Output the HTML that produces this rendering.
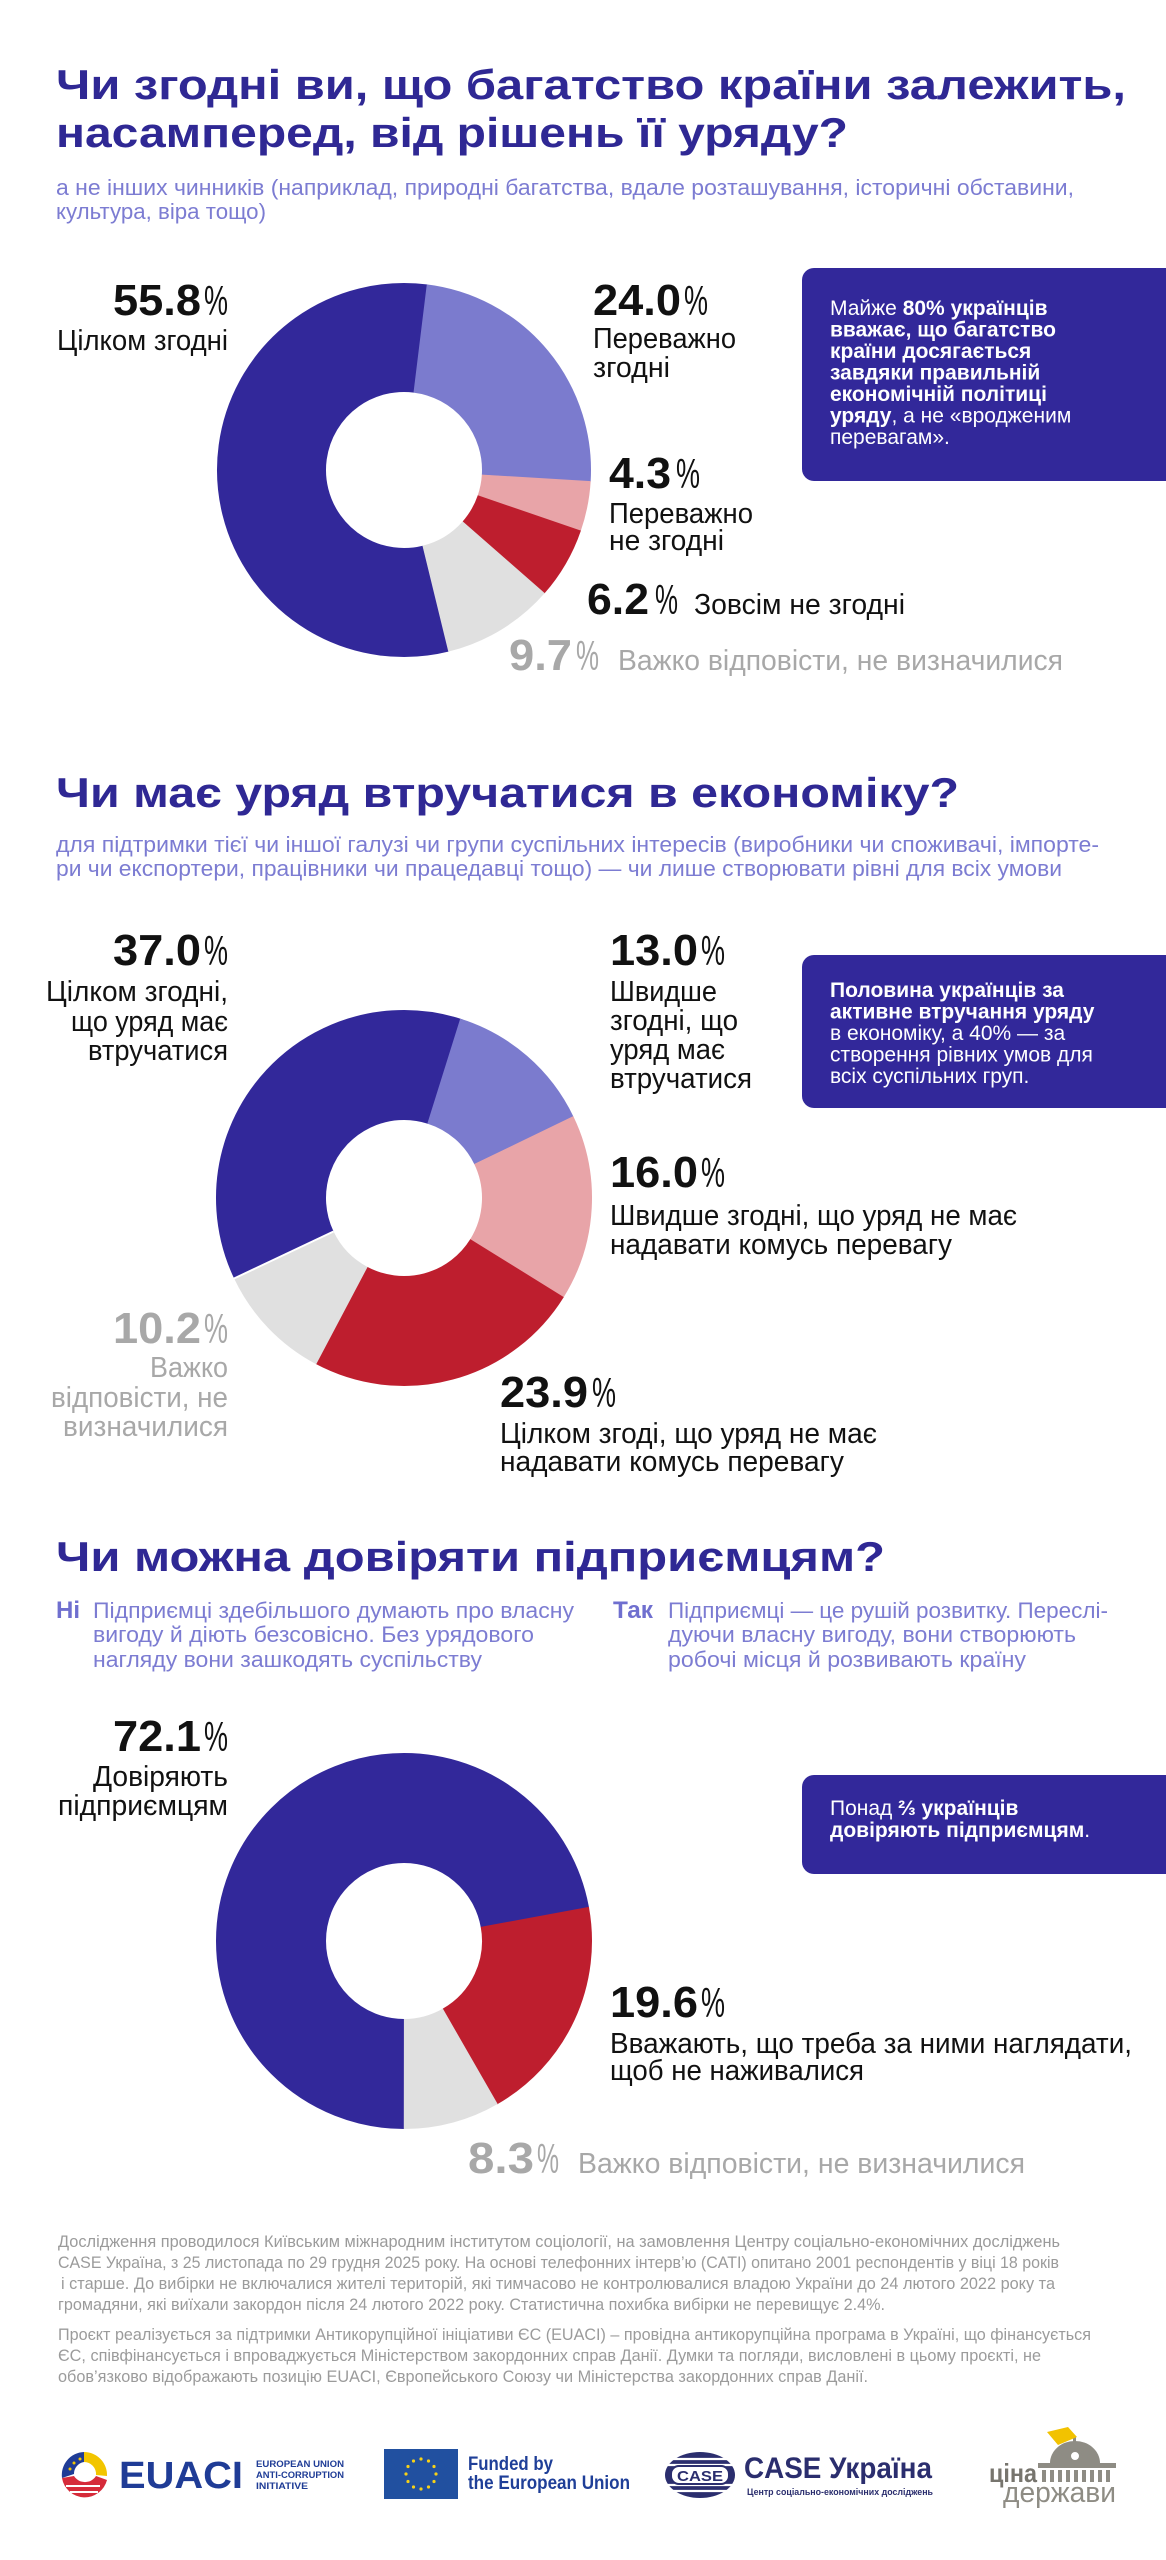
<!DOCTYPE html>
<html><head><meta charset="utf-8"><style>
html,body{margin:0;padding:0;background:#fff;}
svg{display:block;}
.t{font-family:"Liberation Sans","Noto Sans CJK SC",sans-serif;font-weight:700;font-size:42px;fill:#2f2894;}
.s{font-family:"Liberation Sans","Noto Sans CJK SC",sans-serif;font-size:22px;fill:#7c7cd2;}
.n{font-family:"Liberation Sans Narrow","Liberation Sans",sans-serif;font-weight:700;font-size:44px;fill:#111;}
.p{font-family:"Liberation Sans Narrow","Liberation Sans",sans-serif;font-weight:400;font-size:42px;fill:#111;}
.l{font-family:"Liberation Sans Narrow","Liberation Sans",sans-serif;font-size:29px;fill:#111;}
.g{fill:#a8a8a8;}
.b{font-family:"Liberation Sans","Noto Sans CJK SC",sans-serif;font-size:21px;fill:#fff;}
.bb{font-weight:700;}
.f{font-family:"Liberation Sans Narrow","Liberation Sans",sans-serif;font-size:17px;fill:#9b9b9b;}
</style></head><body>
<svg width="1166" height="2560" viewBox="0 0 1166 2560" xmlns="http://www.w3.org/2000/svg">
<rect width="1166" height="2560" fill="#fff"/>

<!-- ===== Section 1 ===== -->
<text class="t" x="56" y="99" textLength="1070" lengthAdjust="spacingAndGlyphs">Чи згодні ви, що багатство країни залежить,</text>
<text class="t" x="56" y="147" textLength="792" lengthAdjust="spacingAndGlyphs">насамперед, від рішень її уряду?</text>
<text class="s" x="56" y="195" textLength="1018" lengthAdjust="spacingAndGlyphs">а не інших чинників (наприклад, природні багатства, вдале розташування, історичні обставини,</text>
<text class="s" x="56" y="219" textLength="210" lengthAdjust="spacingAndGlyphs">культура, віра тощо)</text>

<g fill="none" stroke-width="109">
<circle cx="404" cy="470" r="132.5" pathLength="100" stroke="#32289a" stroke-dasharray="55.9 100" transform="rotate(76.1 404 470)"/>
<circle cx="404" cy="470" r="132.5" pathLength="100" stroke="#7b7bce" stroke-dasharray="24.05 100" transform="rotate(-83 404 470)"/>
<circle cx="404" cy="470" r="132.5" pathLength="100" stroke="#e8a4a8" stroke-dasharray="4.35 100" transform="rotate(3.4 404 470)"/>
<circle cx="404" cy="470" r="132.5" pathLength="100" stroke="#be1e2e" stroke-dasharray="6.25 100" transform="rotate(18.9 404 470)"/>
<circle cx="404" cy="470" r="132.5" pathLength="100" stroke="#e0e0e0" stroke-dasharray="9.75 100" transform="rotate(41.2 404 470)"/>
</g>

<rect x="802" y="268" width="400" height="213" rx="12" fill="#32289a"/>
<text class="b" x="830" y="315">Майже <tspan class="bb">80% українців</tspan></text>
<text class="b bb" x="830" y="336.5">вважає, що багатство</text>
<text class="b bb" x="830" y="358">країни досягається</text>
<text class="b bb" x="830" y="379.5">завдяки правильній</text>
<text class="b bb" x="830" y="401">економічній політиці</text>
<text class="b" x="830" y="422.5"><tspan class="bb">уряду</tspan>, а не «вродженим</text>
<text class="b" x="830" y="444">перевагам».</text>

<text class="n" x="113" y="315" textLength="88" lengthAdjust="spacingAndGlyphs">55.8</text>
<text class="p" x="204" y="315" textLength="24" lengthAdjust="spacingAndGlyphs">%</text>
<text class="l" x="57" y="350" textLength="171" lengthAdjust="spacingAndGlyphs">Цілком згодні</text>

<text class="n" x="593" y="315" textLength="88" lengthAdjust="spacingAndGlyphs">24.0</text>
<text class="p" x="684" y="315" textLength="24" lengthAdjust="spacingAndGlyphs">%</text>
<text class="l" x="593" y="348" textLength="143" lengthAdjust="spacingAndGlyphs">Переважно</text>
<text class="l" x="593" y="377" textLength="77" lengthAdjust="spacingAndGlyphs">згодні</text>

<text class="n" x="609" y="488" textLength="62" lengthAdjust="spacingAndGlyphs">4.3</text>
<text class="p" x="676" y="488" textLength="24" lengthAdjust="spacingAndGlyphs">%</text>
<text class="l" x="609" y="523" textLength="144" lengthAdjust="spacingAndGlyphs">Переважно</text>
<text class="l" x="609" y="550" textLength="115" lengthAdjust="spacingAndGlyphs">не згодні</text>

<text class="n" x="587" y="614" textLength="62" lengthAdjust="spacingAndGlyphs">6.2</text>
<text class="p" x="655" y="614" textLength="23" lengthAdjust="spacingAndGlyphs">%</text>
<text class="l" x="694" y="614" textLength="211" lengthAdjust="spacingAndGlyphs">Зовсім не згодні</text>

<text class="n g" x="509" y="670" textLength="63" lengthAdjust="spacingAndGlyphs">9.7</text>
<text class="p g" x="576" y="670" textLength="23" lengthAdjust="spacingAndGlyphs">%</text>
<text class="l g" x="618" y="670" textLength="445" lengthAdjust="spacingAndGlyphs">Важко відповісти, не визначилися</text>

<!-- ===== Section 2 ===== -->
<text class="t" x="56" y="807" textLength="903" lengthAdjust="spacingAndGlyphs">Чи має уряд втручатися в економіку?</text>
<text class="s" x="56" y="852" textLength="1043" lengthAdjust="spacingAndGlyphs">для підтримки тієї чи іншої галузі чи групи суспільних інтересів (виробники чи споживачі, імпорте-</text>
<text class="s" x="56" y="876" textLength="1006" lengthAdjust="spacingAndGlyphs">ри чи експортери, працівники чи працедавці тощо) — чи лише створювати рівні для всіх умови</text>

<g fill="none" stroke-width="110">
<circle cx="404" cy="1198" r="133" pathLength="100" stroke="#32289a" stroke-dasharray="37.1 100" transform="rotate(154.56 404 1198)"/>
<circle cx="404" cy="1198" r="133" pathLength="100" stroke="#7b7bce" stroke-dasharray="13.05 100" transform="rotate(-72.6 404 1198)"/>
<circle cx="404" cy="1198" r="133" pathLength="100" stroke="#e8a4a8" stroke-dasharray="16.05 100" transform="rotate(-25.8 404 1198)"/>
<circle cx="404" cy="1198" r="133" pathLength="100" stroke="#be1e2e" stroke-dasharray="23.95 100" transform="rotate(31.8 404 1198)"/>
<circle cx="404" cy="1198" r="133" pathLength="100" stroke="#e0e0e0" stroke-dasharray="10.2 100" transform="rotate(117.84 404 1198)"/>
</g>
<line x1="333.5" y1="1231.5" x2="233" y2="1279" stroke="#fff" stroke-width="2"/>

<rect x="802" y="955" width="400" height="153" rx="12" fill="#32289a"/>
<text class="b bb" x="830" y="997">Половина українців за</text>
<text class="b bb" x="830" y="1018.5">активне втручання уряду</text>
<text class="b" x="830" y="1040">в економіку, а 40% — за</text>
<text class="b" x="830" y="1061.5">створення рівних умов для</text>
<text class="b" x="830" y="1083">всіх суспільних груп.</text>

<text class="n" x="113" y="965" textLength="88" lengthAdjust="spacingAndGlyphs">37.0</text>
<text class="p" x="204" y="965" textLength="24" lengthAdjust="spacingAndGlyphs">%</text>
<text class="l" x="46" y="1001" textLength="182" lengthAdjust="spacingAndGlyphs">Цілком згодні,</text>
<text class="l" x="71" y="1031" textLength="157" lengthAdjust="spacingAndGlyphs">що уряд має</text>
<text class="l" x="88" y="1060" textLength="140" lengthAdjust="spacingAndGlyphs">втручатися</text>

<text class="n" x="610" y="965" textLength="88" lengthAdjust="spacingAndGlyphs">13.0</text>
<text class="p" x="701" y="965" textLength="24" lengthAdjust="spacingAndGlyphs">%</text>
<text class="l" x="610" y="1001" textLength="107" lengthAdjust="spacingAndGlyphs">Швидше</text>
<text class="l" x="610" y="1030" textLength="128" lengthAdjust="spacingAndGlyphs">згодні, що</text>
<text class="l" x="610" y="1059" textLength="115" lengthAdjust="spacingAndGlyphs">уряд має</text>
<text class="l" x="610" y="1088" textLength="142" lengthAdjust="spacingAndGlyphs">втручатися</text>

<text class="n" x="610" y="1187" textLength="88" lengthAdjust="spacingAndGlyphs">16.0</text>
<text class="p" x="701" y="1187" textLength="24" lengthAdjust="spacingAndGlyphs">%</text>
<text class="l" x="610" y="1225" textLength="407" lengthAdjust="spacingAndGlyphs">Швидше згодні, що уряд не має</text>
<text class="l" x="610" y="1254" textLength="342" lengthAdjust="spacingAndGlyphs">надавати комусь перевагу</text>

<text class="n g" x="113" y="1343" textLength="88" lengthAdjust="spacingAndGlyphs">10.2</text>
<text class="p g" x="204" y="1343" textLength="24" lengthAdjust="spacingAndGlyphs">%</text>
<text class="l g" x="150" y="1377" textLength="78" lengthAdjust="spacingAndGlyphs">Важко</text>
<text class="l g" x="51" y="1407" textLength="177" lengthAdjust="spacingAndGlyphs">відповісти, не</text>
<text class="l g" x="63" y="1436" textLength="165" lengthAdjust="spacingAndGlyphs">визначилися</text>

<text class="n" x="500" y="1407" textLength="88" lengthAdjust="spacingAndGlyphs">23.9</text>
<text class="p" x="592" y="1407" textLength="24" lengthAdjust="spacingAndGlyphs">%</text>
<text class="l" x="500" y="1443" textLength="377" lengthAdjust="spacingAndGlyphs">Цілком згоді, що уряд не має</text>
<text class="l" x="500" y="1471" textLength="344" lengthAdjust="spacingAndGlyphs">надавати комусь перевагу</text>

<!-- ===== Section 3 ===== -->
<text class="t" x="56" y="1571" textLength="829" lengthAdjust="spacingAndGlyphs">Чи можна довіряти підприємцям?</text>
<text class="s" x="56" y="1618" style="font-weight:700;font-size:24px;fill:#6f6fcf" textLength="24" lengthAdjust="spacingAndGlyphs">Ні</text>
<text class="s" x="93" y="1618" textLength="481" lengthAdjust="spacingAndGlyphs">Підприємці здебільшого думають про власну</text>
<text class="s" x="93" y="1642" textLength="441" lengthAdjust="spacingAndGlyphs">вигоду й діють безсовісно. Без урядового</text>
<text class="s" x="93" y="1667" textLength="389" lengthAdjust="spacingAndGlyphs">нагляду вони зашкодять суспільству</text>
<text class="s" x="613" y="1618" style="font-weight:700;font-size:24px;fill:#6f6fcf" textLength="40" lengthAdjust="spacingAndGlyphs">Так</text>
<text class="s" x="668" y="1618" textLength="440" lengthAdjust="spacingAndGlyphs">Підприємці — це рушій розвитку. Переслі-</text>
<text class="s" x="668" y="1642" textLength="408" lengthAdjust="spacingAndGlyphs">дуючи власну вигоду, вони створюють</text>
<text class="s" x="668" y="1667" textLength="358" lengthAdjust="spacingAndGlyphs">робочі місця й розвивають країну</text>

<g fill="none" stroke-width="110">
<circle cx="404" cy="1941" r="133" pathLength="100" stroke="#32289a" stroke-dasharray="72.2 100" transform="rotate(90 404 1941)"/>
<circle cx="404" cy="1941" r="133" pathLength="100" stroke="#be1e2e" stroke-dasharray="19.65 100" transform="rotate(-10.44 404 1941)"/>
<circle cx="404" cy="1941" r="133" pathLength="100" stroke="#e0e0e0" stroke-dasharray="8.32 100" transform="rotate(60.12 404 1941)"/>
</g>

<rect x="802" y="1775" width="400" height="99" rx="12" fill="#32289a"/>
<text class="b" x="830" y="1815">Понад <tspan class="bb">⅔ українців</tspan></text>
<text class="b" x="830" y="1837"><tspan class="bb">довіряють підприємцям</tspan>.</text>

<text class="n" x="113" y="1751" textLength="88" lengthAdjust="spacingAndGlyphs">72.1</text>
<text class="p" x="204" y="1751" textLength="24" lengthAdjust="spacingAndGlyphs">%</text>
<text class="l" x="93" y="1786" textLength="135" lengthAdjust="spacingAndGlyphs">Довіряють</text>
<text class="l" x="58" y="1815" textLength="170" lengthAdjust="spacingAndGlyphs">підприємцям</text>

<text class="n" x="610" y="2017" textLength="88" lengthAdjust="spacingAndGlyphs">19.6</text>
<text class="p" x="701" y="2017" textLength="24" lengthAdjust="spacingAndGlyphs">%</text>
<text class="l" x="610" y="2053" textLength="522" lengthAdjust="spacingAndGlyphs">Вважають, що треба за ними наглядати,</text>
<text class="l" x="610" y="2080" textLength="254" lengthAdjust="spacingAndGlyphs">щоб не наживалися</text>

<text class="n g" x="468" y="2173" textLength="66" lengthAdjust="spacingAndGlyphs">8.3</text>
<text class="p g" x="537" y="2173" textLength="22" lengthAdjust="spacingAndGlyphs">%</text>
<text class="l g" x="578" y="2173" textLength="447" lengthAdjust="spacingAndGlyphs">Важко відповісти, не визначилися</text>

<!-- ===== Footer ===== -->
<text class="f" x="58" y="2247" textLength="1002" lengthAdjust="spacingAndGlyphs">Дослідження проводилося Київським міжнародним інститутом соціології, на замовлення Центру соціально-економічних досліджень</text>
<text class="f" x="58" y="2268" textLength="1001" lengthAdjust="spacingAndGlyphs">CASE Україна, з 25 листопада по 29 грудня 2025 року. На основі телефонних інтерв’ю (CATI) опитано 2001 респондентів у віці 18 років</text>
<text class="f" x="61" y="2289" textLength="994" lengthAdjust="spacingAndGlyphs">і старше. До вибірки не включалися жителі територій, які тимчасово не контролювалися владою України до 24 лютого 2022 року та</text>
<text class="f" x="58" y="2310" textLength="827" lengthAdjust="spacingAndGlyphs">громадяни, які виїхали закордон після 24 лютого 2022 року. Статистична похибка вибірки не перевищує 2.4%.</text>
<text class="f" x="58" y="2340" textLength="1033" lengthAdjust="spacingAndGlyphs">Проєкт реалізується за підтримки Антикорупційної ініціативи ЄС (EUACI) – провідна антикорупційна програма в Україні, що фінансується</text>
<text class="f" x="58" y="2361" textLength="983" lengthAdjust="spacingAndGlyphs">ЄС, співфінансується і впроваджується Міністерством закордонних справ Данії. Думки та погляди, висловлені в цьому проєкті, не</text>
<text class="f" x="58" y="2382" textLength="810" lengthAdjust="spacingAndGlyphs">обов’язково відображають позицію EUACI, Європейського Союзу чи Міністерства закордонних справ Данії.</text>

<!-- EUACI logo -->
<g>
<path d="M84 2452 A23 23 0 0 0 62 2478 L74 2474 A12 12 0 0 1 84 2462 Z" fill="#1f3c96"/>
<path d="M84 2452 A23 23 0 0 1 107 2476 L96 2475 A12 12 0 0 0 84 2462 Z" fill="#f2c500"/>
<path d="M62 2478 A23 23 0 0 0 107 2480 L96 2476 A13 13 0 0 1 74 2476 Z" fill="#d62b3a"/>
<path d="M66 2486 L100 2486 M70 2492 L98 2492" stroke="#fff" stroke-width="2"/>
<circle cx="74" cy="2463" r="1.5" fill="#f2c500"/><circle cx="80" cy="2459" r="1.5" fill="#f2c500"/><circle cx="70" cy="2469" r="1.5" fill="#f2c500"/>
</g>
<text x="119" y="2488" textLength="124" lengthAdjust="spacingAndGlyphs" style="font-family:'Liberation Sans',sans-serif;font-weight:700;font-size:38px;fill:#1f3c96">EUACI</text>
<g style="font-family:'Liberation Sans',sans-serif;font-weight:700;font-size:9.5px;fill:#1f3c96">
<text x="256" y="2467" textLength="88" lengthAdjust="spacingAndGlyphs">EUROPEAN UNION</text>
<text x="256" y="2478" textLength="88" lengthAdjust="spacingAndGlyphs">ANTI-CORRUPTION</text>
<text x="256" y="2489" textLength="52" lengthAdjust="spacingAndGlyphs">INITIATIVE</text>
</g>

<!-- EU flag -->
<rect x="384" y="2449" width="74" height="50" fill="#2150a0"/>
<g fill="#f7d117">
<circle cx="421" cy="2459" r="1.6"/><circle cx="428.5" cy="2461" r="1.6"/><circle cx="434" cy="2466.5" r="1.6"/><circle cx="436" cy="2474" r="1.6"/><circle cx="434" cy="2481.5" r="1.6"/><circle cx="428.5" cy="2487" r="1.6"/><circle cx="421" cy="2489" r="1.6"/><circle cx="413.5" cy="2487" r="1.6"/><circle cx="408" cy="2481.5" r="1.6"/><circle cx="406" cy="2474" r="1.6"/><circle cx="408" cy="2466.5" r="1.6"/><circle cx="413.5" cy="2461" r="1.6"/>
</g>
<g style="font-family:'Liberation Sans',sans-serif;font-weight:700;font-size:19px;fill:#1f3f98">
<text x="468" y="2470" textLength="85" lengthAdjust="spacingAndGlyphs">Funded by</text>
<text x="468" y="2489" textLength="162" lengthAdjust="spacingAndGlyphs">the European Union</text>
</g>

<!-- CASE logo -->
<g>
<ellipse cx="700" cy="2475" rx="35" ry="23" fill="#2b2e6e"/>
<g stroke="#fff" stroke-width="2.2">
<line x1="664" y1="2459" x2="736" y2="2459"/><line x1="664" y1="2465" x2="736" y2="2465"/><line x1="664" y1="2485" x2="736" y2="2485"/><line x1="664" y1="2491" x2="736" y2="2491"/>
</g>
<rect x="671" y="2466" width="58" height="18" rx="8" fill="#fff" stroke="#2b2e6e" stroke-width="2"/>
<text x="677" y="2481" textLength="46" lengthAdjust="spacingAndGlyphs" style="font-family:'Liberation Sans',sans-serif;font-weight:700;font-size:15px;fill:#2b2e6e">CASE</text>
</g>
<text x="744" y="2478" textLength="188" lengthAdjust="spacingAndGlyphs" style="font-family:'Liberation Sans Narrow','Liberation Sans',sans-serif;font-weight:700;font-size:30px;fill:#2b2e6e">CASE Україна</text>
<text x="747" y="2495" textLength="186" lengthAdjust="spacingAndGlyphs" style="font-family:'Liberation Sans Narrow','Liberation Sans',sans-serif;font-weight:700;font-size:9px;fill:#2b2e6e">Центр соціально-економічних досліджень</text>

<!-- Ціна держави logo -->
<g>
<path d="M1050 2463 A25 22 0 0 1 1100 2463 Z" fill="#8e8c84"/>
<rect x="1073" y="2436" width="3" height="8" fill="#8e8c84"/>
<path d="M1047 2432 L1068 2427 L1077 2437 L1058 2445 Z" fill="#f2c200"/>
<circle cx="1075" cy="2456" r="5" fill="#fff" stroke="#8e8c84" stroke-width="2"/>
<rect x="1038" y="2463" width="78" height="5" fill="#8e8c84"/>
<g fill="#8e8c84">
<rect x="1042" y="2470" width="4" height="12"/><rect x="1050" y="2470" width="4" height="12"/><rect x="1058" y="2470" width="4" height="12"/><rect x="1066" y="2470" width="4" height="12"/><rect x="1074" y="2470" width="4" height="12"/><rect x="1082" y="2470" width="4" height="12"/><rect x="1090" y="2470" width="4" height="12"/><rect x="1098" y="2470" width="4" height="12"/><rect x="1106" y="2470" width="4" height="12"/>
</g>
<text x="989" y="2482" textLength="48" lengthAdjust="spacingAndGlyphs" style="font-family:'Liberation Sans Narrow','Liberation Sans',sans-serif;font-weight:700;font-size:26px;fill:#77756e">ціна</text>
<text x="1003" y="2502" textLength="113" lengthAdjust="spacingAndGlyphs" style="font-family:'Liberation Sans Narrow','Liberation Sans',sans-serif;font-size:29px;fill:#8e8c84">держави</text>
</g>
</svg>
</body></html>
